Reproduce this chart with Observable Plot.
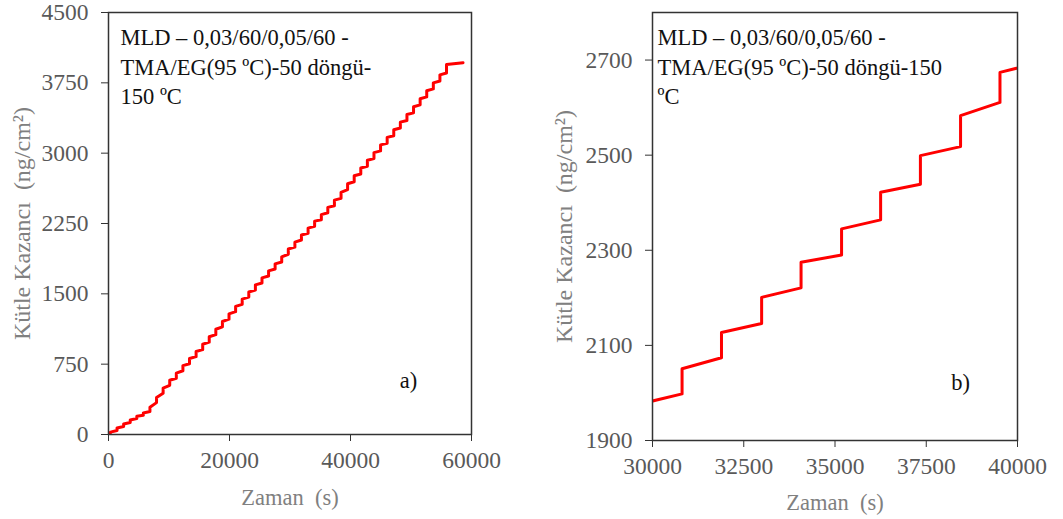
<!DOCTYPE html>
<html>
<head>
<meta charset="utf-8">
<script src="https://cdn.jsdelivr.net/npm/d3@7"></script>
<script src="https://cdn.jsdelivr.net/npm/@observablehq/plot@0.6"></script>
<style>
  html, body { margin: 0; padding: 0; background: #fff; }
  #wrap { display: flex; width: 1063px; height: 519px; }
  #wrap svg, #wrap svg text { font-family: 'Liberation Serif', 'Times New Roman', serif !important; }
</style>
</head>
<body>
<div id="wrap"></div>
<script>
// ---- Data (QCM mass gain, step at each MLD cycle) ----
const startTime = 0;
const startValue = 0;
const jumpTimes = [320, 1410, 2500, 3590, 4680, 5760, 6850, 7940, 9030, 10120,
  11210, 12300, 13390, 14480, 15570, 16650, 17740, 18830, 19920, 21010,
  22100, 23190, 24280, 25370, 26460, 27540, 28630, 29720, 30810, 31890,
  32990, 34070, 35180, 36250, 37340, 38440, 39520, 40610, 41700, 42790,
  43880, 44970, 46060, 47150, 48240, 49330, 50420, 51510, 52600, 53690,
  54780, 55870];
const valueBefore = [2, 42, 85, 128, 170, 205, 245, 340, 440, 525,
  600, 680, 755, 830, 905, 985, 1065, 1148, 1230, 1310,
  1388, 1465, 1540, 1615, 1690, 1765, 1840, 1922, 1998, 2074,
  2146, 2221, 2290, 2364, 2439, 2518, 2611, 2695, 2778, 2860,
  2942, 3024, 3105, 3186, 3268, 3349, 3430, 3515, 3600, 3685,
  3770, 3855];
const valueAfter = [25, 70, 112, 155, 195, 230, 290, 395, 495, 578,
  655, 735, 810, 885, 962, 1042, 1122, 1205, 1287, 1366,
  1444, 1520, 1596, 1670, 1745, 1820, 1895, 1978, 2051, 2127,
  2201, 2275, 2345, 2422, 2499, 2583, 2674, 2760, 2842, 2924,
  3006, 3088, 3168, 3249, 3331, 3412, 3495, 3580, 3665, 3750,
  3835, 3945];
const endTime = 58600;
const endValue = 3965;

// ---- Axes / text ----
const xTicksA = [0, 20000, 40000, 60000];
const yTicksA = [0, 750, 1500, 2250, 3000, 3750, 4500];
const xTicksB = [30000, 32500, 35000, 37500, 40000];
const yTicksB = [1900, 2100, 2300, 2500, 2700];
const xTitle = "Zaman  (s)";
const yTitle = "Kütle Kazancı  (ng/cm²)";
const noteA = "MLD – 0,03/60/0,05/60 -\nTMA/EG(95 ºC)-50 döngü-\n150 ºC";
const noteB = "MLD – 0,03/60/0,05/60 -\nTMA/EG(95 ºC)-50 döngü-150\nºC";

// ---- Build the line series from the read values ----
const series = [{t: startTime, v: startValue}];
jumpTimes.forEach((t, i) => {
  series.push({t, v: valueBefore[i]}, {t, v: valueAfter[i]});
});
series.push({t: endTime, v: endValue});

const TICK_COLOR = "#595959";
const TITLE_COLOR = "#808080";
const RED = "#ff0000";
const fmt = d => String(d);

function panel(cfg) {
  return Plot.plot({
    width: cfg.width, height: 519,
    marginLeft: cfg.ml, marginRight: cfg.mr, marginTop: 12, marginBottom: cfg.mb,
    style: "font-family: 'Liberation Serif', serif; font-size: 22px; background: transparent; overflow: visible;",
    x: {domain: cfg.xDomain},
    y: {domain: cfg.yDomain},
    marks: [
      Plot.axisX({ticks: cfg.xTicks, tickSize: 7, tickPadding: 10, tickFormat: fmt,
        stroke: "#333", fill: TICK_COLOR, label: null, fontSize: 23.5}),
      Plot.axisY({ticks: cfg.yTicks, tickSize: 7, tickPadding: 13, tickFormat: fmt,
        stroke: "#333", fill: TICK_COLOR, label: null, fontSize: 23.5}),
      Plot.line(series, {x: "t", y: "v", stroke: RED, strokeWidth: 3, clip: true}),
      Plot.frame({stroke: "#333", strokeWidth: 1.5}),
      Plot.text([cfg.note], {text: d => d, frameAnchor: "top-left", dx: cfg.noteDx, dy: 12,
        textAnchor: "start", lineAnchor: "top", lineHeight: 1.3, fill: "#111", fontSize: 22.5}),
      Plot.text([cfg.label], {text: d => d, frameAnchor: "top-left", dx: cfg.labelDx, dy: cfg.labelDy,
        textAnchor: "middle", lineAnchor: "middle", fill: "#111", fontSize: 22.5}),
      Plot.text([xTitle], {text: d => d, frameAnchor: "bottom", dy: cfg.xTitleDy,
        textAnchor: "middle", lineAnchor: "middle", fill: TITLE_COLOR, fontSize: 22.5}),
      Plot.text([yTitle], {text: d => d, frameAnchor: "left", dx: cfg.yTitleDx, rotate: -90,
        textAnchor: "middle", lineAnchor: "middle", fill: TITLE_COLOR, fontSize: 24})
    ]
  });
}

const left = panel({
  width: 530, ml: 108, mr: 59, mb: 85,
  xDomain: [0, 60000], yDomain: [0, 4500],
  xTicks: xTicksA, yTicks: yTicksA,
  note: noteA, noteDx: 12, label: "a)", labelDx: 300, labelDy: 368,
  xTitleDy: 63, yTitleDx: -86
});
const right = panel({
  width: 533, ml: 122, mr: 46, mb: 79,
  xDomain: [30000, 40000], yDomain: [1900, 2800],
  xTicks: xTicksB, yTicks: yTicksB,
  note: noteB, noteDx: 5, label: "b)", labelDx: 308, labelDy: 370,
  xTitleDy: 62, yTitleDx: -88
});
document.getElementById("wrap").append(left, right);
</script>
</body>
</html>
